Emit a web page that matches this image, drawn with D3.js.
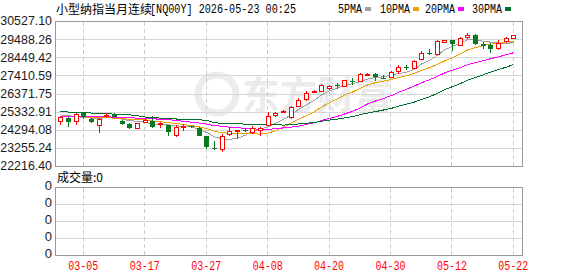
<!DOCTYPE html>
<html>
<head>
<meta charset="utf-8">
<script src="https://cdn.jsdelivr.net/npm/d3@7"></script>
<style>
body { margin: 0; background: #fff; }
svg { display: block; }
</style>
</head>
<body>
<div id="chart"></div>
<script>
// trading days shown on the chart
var dates = ["03-02","03-03","03-04","03-05","03-06","03-09","03-10","03-11","03-12","03-13",
             "03-16","03-17","03-18","03-19","03-20","03-23","03-24","03-25","03-26","03-27",
             "03-30","03-31","04-01","04-02","04-03","04-06","04-07","04-08","04-09","04-10",
             "04-13","04-14","04-15","04-16","04-17","04-20","04-21","04-22","04-23","04-24",
             "04-27","04-28","04-29","04-30","05-01","05-04","05-05","05-06","05-07","05-08",
             "05-11","05-12","05-13","05-14","05-15","05-18","05-19","05-20","05-21","05-22"];

var opens  = [24787,24987,24798,25255,24930,24558,25112,25158,24815,24644,
              24387,24741,24787,24644,24558,23987,24473,24484,24415,23918,
              23227,23199,24061,24273,24256,24158,24301,24558,25112,25318,
              25027,25672,26032,26432,26500,26660,26831,26774,27071,27100,
              27460,27488,27283,27328,27683,27911,27843,28339,28682,28625,
              29328,29425,29173,29613,29710,29230,29173,29002,29368,29556];
var highs  = [25072,25015,25244,25284,24987,24958,25255,25227,24844,24673,
              24701,24912,25055,24730,24587,24558,24615,24530,24444,23959,
              23633,24056,24387,24301,24330,24501,24444,25329,25301,25398,
              25632,26100,26489,26557,26929,26871,26957,27157,27243,27528,
              27540,27574,27414,27643,27997,28031,28282,28796,28945,29425,
              29442,29459,29613,29842,29802,29345,29242,29425,29613,29745];
var lows   = [24547,24444,24547,24901,24673,24113,24970,25015,24587,24358,
              24330,24701,24415,24398,23930,23873,24216,24415,23930,23199,
              23130,23045,23918,23787,24158,24044,23959,24490,25004,25284,
              24912,25615,25958,26386,26443,26557,26643,26729,26843,27060,
              27414,27089,27214,27243,27517,27711,27803,28282,28568,28568,
              29310,28796,29099,29516,29139,28911,28716,28871,29288,29482];
var closes = [25044,24758,25204,25044,24741,24901,25141,25044,24627,24387,
              24684,24872,24444,24701,24158,24473,24501,24455,23959,23330,
              23199,23959,24244,24301,24227,24398,24398,25072,25255,25369,
              25615,26015,26397,26529,26871,26814,26803,27129,27043,27500,
              27488,27328,27254,27614,27871,27883,28225,28716,28642,29368,
              29425,29230,29556,29745,29230,29099,28945,29288,29556,29710];

// moving averages
var ma5  = [25150,25100,25050,25000,24958,24930,25006,24974,24891,24820,
            24777,24723,24603,24618,24572,24530,24455,24458,24309,24144,
            23889,23780,23738,23807,23986,24226,24314,24479,24670,24898,
            25142,25465,25730,25985,26285,26525,26683,26829,26932,27058,
            27193,27298,27323,27437,27511,27590,27769,28062,28267,28567,
            28875,29076,29244,29465,29437,29372,29315,29261,29224,29320];
var ma10 = [25060,25050,25040,25030,25010,24990,24980,24960,24930,24889,
            24853,24865,24789,24754,24696,24653,24589,24530,24463,24358,
            24209,24118,24098,24058,24065,24057,24047,24109,24238,24442,
            24684,24889,25105,25328,25592,25834,26074,26280,26459,26672,
            26859,26990,27076,27184,27284,27391,27534,27692,27852,28039,
            28233,28423,28653,28866,29002,29124,29196,29253,29344,29378];
var ma20 = [25070,25065,25060,25055,25050,25040,25030,25020,25000,24980,
            24960,24940,24920,24900,24870,24830,24780,24730,24680,24623,
            24531,24491,24443,24406,24380,24355,24318,24319,24351,24400,
            24447,24504,24601,24693,24828,24945,25061,25194,25348,25557,
            25771,25940,26090,26256,26438,26612,26804,26986,27155,27355,
            27546,27707,27864,28025,28143,28257,28365,28473,28598,28709];
var ma30 = [25320,25310,25300,25290,25250,25220,25210,25190,25170,25150,
            25100,25020,24990,24960,24930,24910,24900,24880,24860,24840,
            24700,24660,24640,24630,24620,24610,24600,24590,24575,24563,
            24582,24624,24664,24713,24784,24848,24903,24973,25053,25157,
            25251,25333,25426,25523,25647,25761,25885,26027,26183,26384,
            26592,26767,26945,27126,27293,27449,27601,27742,27885,28030];

var yTickLabels = ["22216.40","23255.24","24294.08","25332.91","26371.75",
                   "27410.59","28449.42","29488.26","30527.10"];
var volTickLabels = ["0","0","0","0","0"];
var xTickLabels = ["03-05","03-17","03-27","04-08","04-20","04-30","05-12","05-22"];

var maNames  = ["5PMA","10PMA","20PMA","30PMA"];
var maColors = ["#a0a0a0","#f0a000","#ff00ff","#006f2e"];
var upColor = "#ff0000", downColor = "#0a7a1e";

var plot = {left: 55, right: 522, top: 21, bottom: 166, volTop: 187, volBottom: 255};
var plotWidth = plot.right - plot.left;

var svg = d3.select("#chart")
    .append("svg")
    .attr("width", 578)
    .attr("height", 276)
    .style("font-family", "'Liberation Sans', Arial, sans-serif");

// scales
var x = d3.scaleBand()
    .domain(dates)
    .range([56.5, 517.2])
    .paddingInner(0.35)
    .paddingOuter(0.175);

var y = d3.scaleLinear()
    .domain([+yTickLabels[0], +yTickLabels[yTickLabels.length - 1]])
    .range([plot.bottom, plot.top]);

var yVol = d3.scaleLinear()
    .domain([0, volTickLabels.length - 1])
    .range([plot.volBottom, plot.volTop]);

function cx(i) { return Math.round(x(dates[i]) + x.bandwidth() / 2) + 0.5; }

// watermark
var wm = svg.append("g").attr("fill", "#ebebeb");
wm.append("circle")
    .attr("cx", 217).attr("cy", 94).attr("r", 19)
    .attr("fill", "none").attr("stroke", "#ececec").attr("stroke-width", 7);
wm.append("text")
    .attr("x", 242).attr("y", 109)
    .style("font-family", "'Noto Sans CJK SC'")
    .style("font-weight", "bold")
    .style("font-size", "39px")
    .attr("textLength", 150)
    .attr("lengthAdjust", "spacingAndGlyphs")
    .text("东方财富");

// horizontal grid + y labels (price)
var yAxis = svg.append("g")
    .attr("transform", "translate(" + plot.left + ",0)")
    .call(d3.axisLeft(y)
        .tickValues(yTickLabels.map(Number))
        .tickSize(-plotWidth)
        .tickFormat(function(d, i) { return yTickLabels[i]; }));
yAxis.select(".domain").remove();
yAxis.selectAll("line").attr("stroke", "#d6d6d6").attr("shape-rendering", "crispEdges");
yAxis.selectAll("text").attr("fill", "#1a1a1a").style("font-size", "12.4px")
    .style("font-family", "'Liberation Sans', Arial, sans-serif");

// volume grid + labels
var vAxis = svg.append("g")
    .attr("transform", "translate(" + plot.left + ",0)")
    .call(d3.axisLeft(yVol)
        .tickValues(d3.range(volTickLabels.length))
        .tickSize(-plotWidth)
        .tickFormat(function(d, i) { return volTickLabels[i]; }));
vAxis.select(".domain").remove();
vAxis.selectAll("line").attr("stroke", "#d6d6d6").attr("shape-rendering", "crispEdges");
vAxis.selectAll("text").attr("fill", "#1a1a1a").attr("dy", "0.2em").style("font-size", "13px")
    .style("font-family", "'Liberation Sans', Arial, sans-serif");

// vertical dashed grid in both panels
function vGrid(top, bottom) {
    var g = svg.append("g")
        .attr("transform", "translate(0," + bottom + ")")
        .call(d3.axisBottom(x).tickValues(xTickLabels).tickSize(-(bottom - top)).tickFormat(""));
    g.select(".domain").remove();
    g.selectAll("line")
        .attr("stroke", "#cccccc")
        .attr("stroke-dasharray", "4,3")
        .attr("shape-rendering", "crispEdges");
}
vGrid(plot.top, plot.bottom);
vGrid(plot.volTop, plot.volBottom);

// x labels
var xAxis = svg.append("g")
    .attr("transform", "translate(0," + plot.volBottom + ")")
    .call(d3.axisBottom(x).tickValues(xTickLabels).tickSize(0).tickPadding(6));
xAxis.select(".domain").remove();
xAxis.selectAll("text")
    .attr("fill", "#ff0000")
    .style("font-size", "12px")
    .style("font-family", "'Liberation Mono', monospace")
    .attr("textLength", 30)
    .attr("lengthAdjust", "spacingAndGlyphs");

// moving average lines
var maSeries = [ma5, ma10, ma20, ma30];
maSeries.forEach(function(series, k) {
    var line = d3.line()
        .x(function(d, i) { return cx(i); })
        .y(function(d) { return y(d); });
    svg.append("path")
        .datum(series)
        .attr("d", line)
        .attr("fill", "none")
        .attr("stroke", maColors[k])
        .attr("stroke-width", 1)
        .attr("shape-rendering", "crispEdges");
});

// candles
var candles = svg.append("g").selectAll("g")
    .data(dates)
    .enter()
    .append("g");

candles.append("line")
    .attr("x1", function(d, i) { return cx(i); })
    .attr("x2", function(d, i) { return cx(i); })
    .attr("y1", function(d, i) { return Math.round(y(highs[i])); })
    .attr("y2", function(d, i) { return Math.round(y(lows[i])); })
    .attr("stroke", function(d, i) { return closes[i] >= opens[i] ? upColor : downColor; })
    .attr("shape-rendering", "crispEdges");

candles.append("rect")
    .attr("x", function(d, i) { return closes[i] >= opens[i] ? cx(i) - 2 : cx(i) - 2.5; })
    .attr("width", function(d, i) { return closes[i] >= opens[i] ? 4 : 5; })
    .attr("y", function(d, i) {
        var t = Math.round(y(Math.max(opens[i], closes[i])));
        return closes[i] >= opens[i] ? t + 0.5 : t;
    })
    .attr("height", function(d, i) {
        var t = Math.round(y(Math.max(opens[i], closes[i])));
        var b = Math.round(y(Math.min(opens[i], closes[i])));
        return Math.max(b - t, 1);
    })
    .attr("fill", function(d, i) { return closes[i] >= opens[i] ? "#fff" : downColor; })
    .attr("stroke", function(d, i) { return closes[i] >= opens[i] ? upColor : "none"; })
    .attr("shape-rendering", "crispEdges");

// panel frames
svg.append("rect")
    .attr("x", plot.left + 0.5).attr("y", plot.top + 0.5)
    .attr("width", plotWidth).attr("height", plot.bottom - plot.top)
    .attr("fill", "none").attr("stroke", "#999").attr("shape-rendering", "crispEdges");
svg.append("rect")
    .attr("x", plot.left + 0.5).attr("y", plot.volTop + 0.5)
    .attr("width", plotWidth).attr("height", plot.volBottom - plot.volTop)
    .attr("fill", "none").attr("stroke", "#999").attr("shape-rendering", "crispEdges");

// title
svg.append("text")
    .attr("x", 56).attr("y", 13.5)
    .style("font-family", "'Noto Sans CJK SC'")
    .style("font-size", "12px")
    .attr("fill", "#000")
    .text("小型纳指当月连续");
svg.append("text")
    .attr("x", 150).attr("y", 13)
    .style("font-family", "'Liberation Mono', monospace")
    .style("font-size", "12px")
    .attr("fill", "#000")
    .attr("textLength", 146)
    .attr("lengthAdjust", "spacingAndGlyphs")
    .text("[NQ00Y] 2026-05-23 00:25");

// legend
var legendX = [338, 380, 425, 472];
maNames.forEach(function(name, k) {
    var w = name.length * 6;
    svg.append("text")
        .attr("x", legendX[k]).attr("y", 12.5)
        .style("font-family", "'Liberation Mono', monospace")
        .style("font-size", "12px")
        .attr("fill", "#000")
        .attr("textLength", w)
        .attr("lengthAdjust", "spacingAndGlyphs")
        .text(name);
    svg.append("rect")
        .attr("x", legendX[k] + w + 3).attr("y", 7)
        .attr("width", 6).attr("height", 4)
        .attr("fill", maColors[k]);
});

// volume title
svg.append("text")
    .attr("x", 57).attr("y", 182)
    .style("font-family", "'Noto Sans CJK SC'")
    .style("font-size", "12px")
    .attr("fill", "#000")
    .text("成交量:0");
</script>
</body>
</html>
